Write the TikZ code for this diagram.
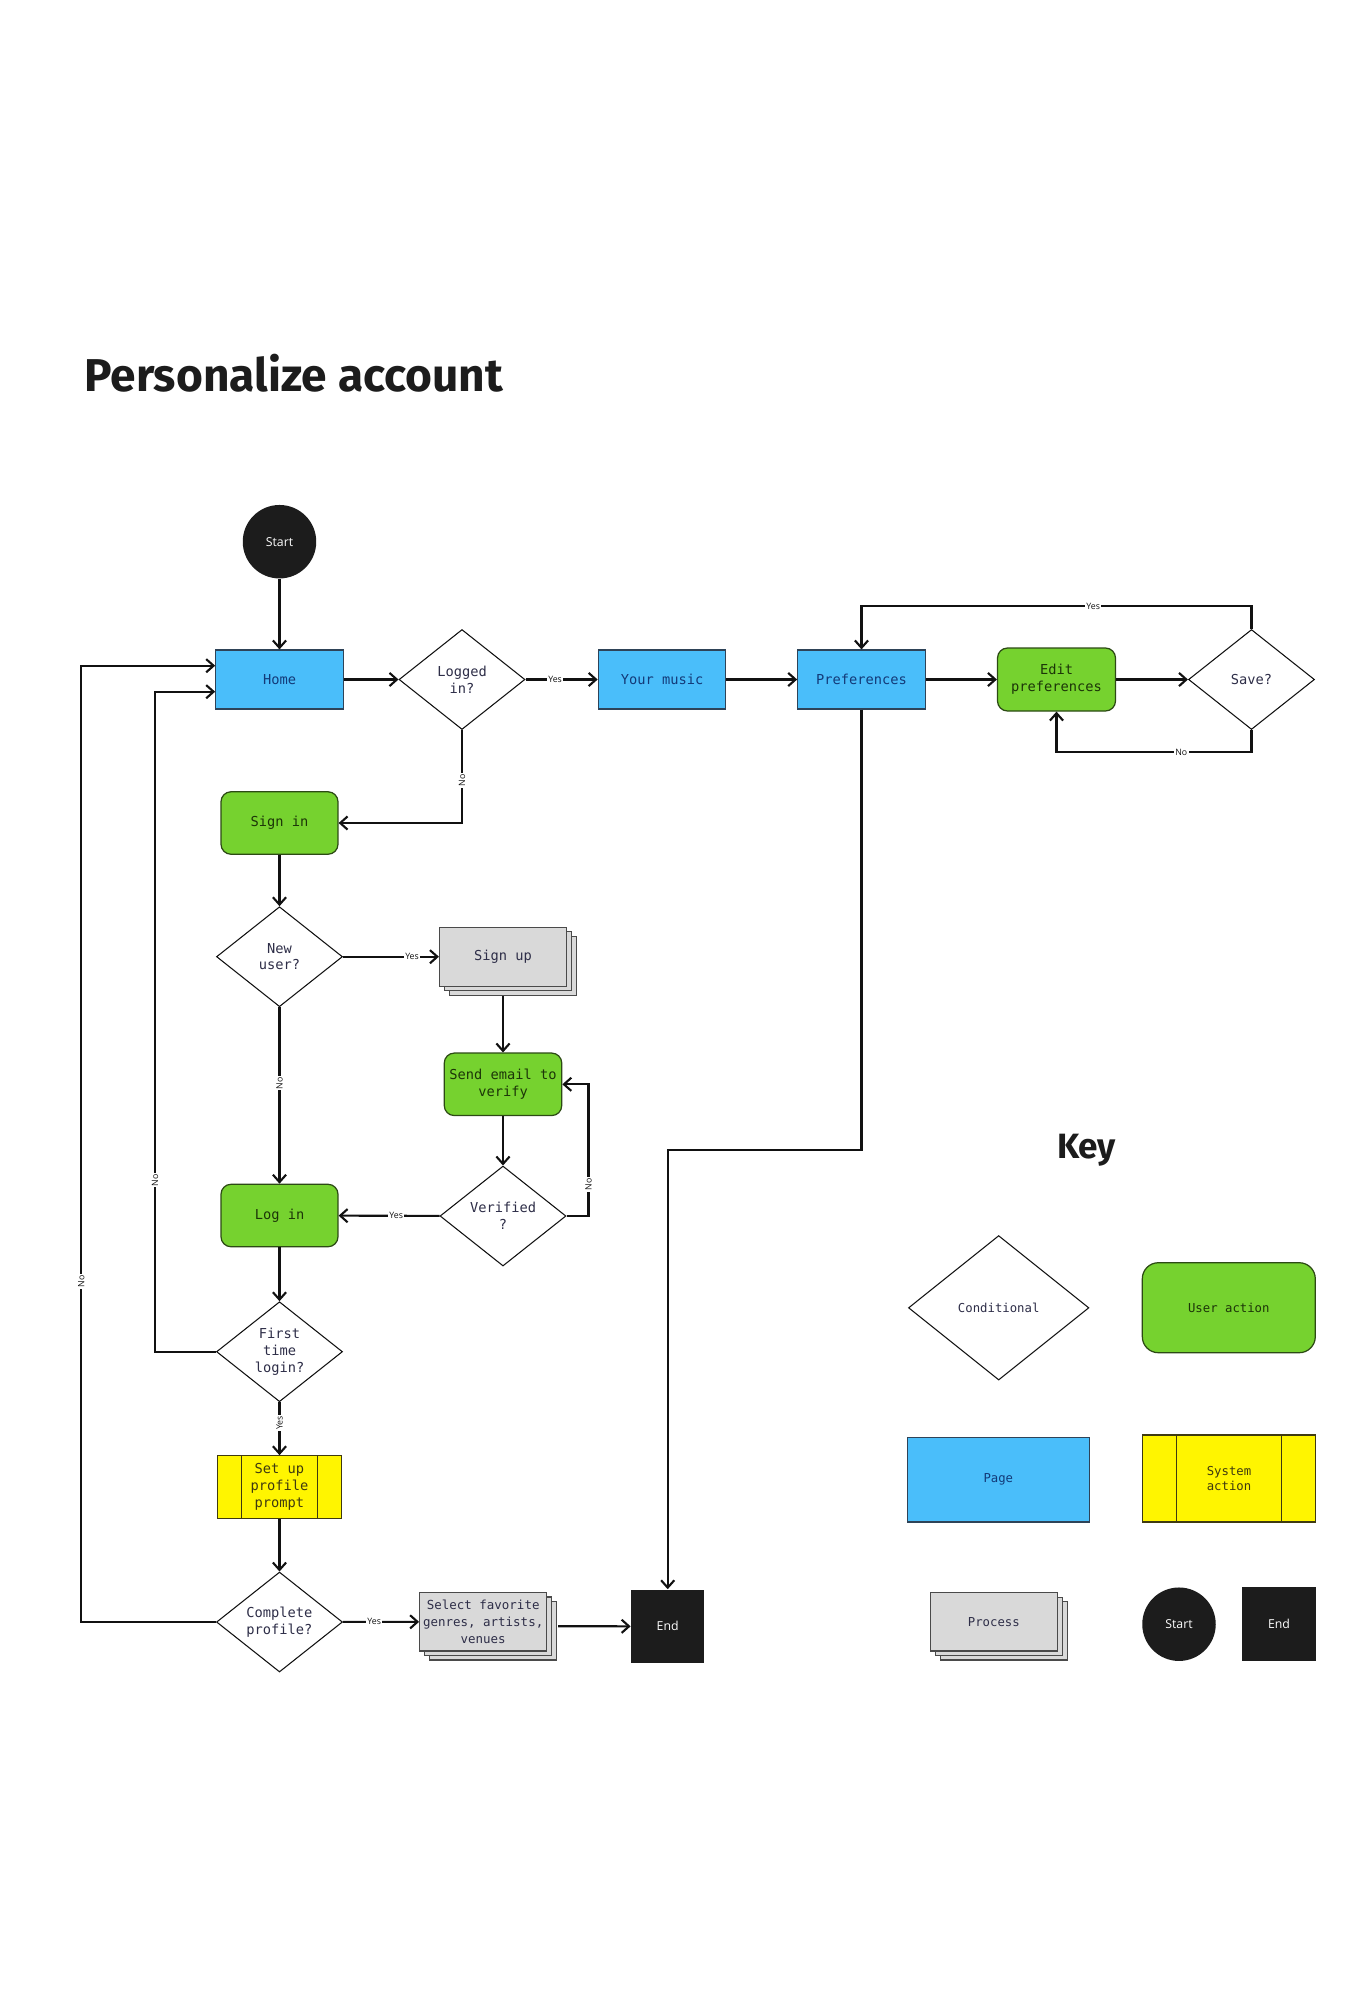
\documentclass[tikz,border=0pt]{standalone}
\usepackage{fontspec}
\setmainfont{Open Sans}
\newfontfamily\monofont{DejaVu Sans Mono}
\newfontfamily\headfont{Fira Sans}
\usepackage{xcolor}
\usepackage{tikz}
\usetikzlibrary{arrows.meta,shapes.geometric,shadows,calc,positioning}

\definecolor{pageblue}{HTML}{4ABEFA}
\definecolor{pageline}{HTML}{2E4358}
\definecolor{pagetext}{HTML}{133A78}
\definecolor{actgreen}{HTML}{76D22F}
\definecolor{actline}{HTML}{2C4A14}
\definecolor{acttext}{HTML}{1C3508}
\definecolor{sysyellow}{HTML}{FFF500}
\definecolor{sysline}{HTML}{3F3A10}
\definecolor{procgray}{HTML}{D9D9D9}
\definecolor{procline}{HTML}{4A4A4A}
\definecolor{termblack}{HTML}{1C1C1C}
\definecolor{condtext}{HTML}{2E2E48}
\definecolor{linkline}{HTML}{111111}

\begin{document}
\begin{tikzpicture}[x=0.02cm,y=-0.02cm]
  \tikzstyle{txt} = [font=\fontsize{7.8}{9.5}\monofont,align=center,inner sep=0pt]
  \tikzstyle{keytxt} = [font=\fontsize{7}{8.6}\monofont,align=center,inner sep=0pt]
  \tikzstyle{page} = [rectangle,fill=pageblue,draw=pageline,line width=0.7pt,text=pagetext]
  \tikzstyle{useraction} = [rectangle,rounded corners=0.2cm,fill=actgreen,draw=actline,line width=0.7pt,text=acttext]
  \tikzstyle{sysaction} = [rectangle,fill=sysyellow,draw=sysline,line width=0.7pt,text=sysline]
  \tikzstyle{cond} = [diamond,aspect=1.26,fill=white,draw=linkline,line width=0.6pt,text=condtext,minimum width=2.52cm,minimum height=2cm]
  \tikzstyle{process} = [rectangle,fill=procgray,draw=procline,line width=0.7pt,text=condtext,
    copy shadow={shadow xshift=5.7pt,shadow yshift=-5.1pt,fill=procgray,draw=procline},
    copy shadow={shadow xshift=2.85pt,shadow yshift=-2.6pt,fill=procgray,draw=procline}]
  \tikzstyle{terminal} = [circle,fill=termblack,draw=none,text=white,font=\fontsize{7}{8}\selectfont,minimum size=1.47cm,inner sep=0pt]
  \tikzstyle{endbox} = [rectangle,fill=termblack,draw=none,text=white,font=\fontsize{7}{8}\selectfont,minimum size=1.47cm,inner sep=0pt]
  \tikzstyle{arr} = [draw=linkline,line width=1.2pt,-{Straight Barb[length=4.2pt,width=7.5pt]}]
  \tikzstyle{lbl} = [fill=white,text=linkline,font=\fontsize{5}{6}\selectfont,inner sep=0.8pt]

  \path[use as bounding box] (0,0) rectangle (1372,1999);

  \node[anchor=base west,inner sep=0pt,text=termblack,font=\headfont\bfseries\fontsize{26.2}{31}\selectfont] (title) at (84,391.7) {Personalize account};

  \node[terminal] (Start_0) at (279.5,541.7) {Start};
  \node[page,txt,minimum width=2.55cm,minimum height=1.18cm] (Home) at (279.5,679.5) {Home};
  \node[cond,txt] (Logged_in) at (462,679.5) {Logged\\in?};
  \node[page,txt,minimum width=2.55cm,minimum height=1.18cm] (Your_music) at (662,679.5) {Your music};
  \node[page,txt,minimum width=2.55cm,minimum height=1.18cm] (Preferences) at (861.5,679.5) {Preferences};
  \node[useraction,txt,minimum width=2.36cm,minimum height=1.26cm] (Edit_pref) at (1056.5,679.5) {Edit\\preferences};
  \node[cond,txt] (Save) at (1251.5,679.5) {Save?};

  \node[useraction,txt,minimum width=2.34cm,minimum height=1.25cm] (Sign_in) at (279.5,823) {Sign in};
  \node[cond,txt] (New_user) at (279.5,956.7) {New\\user?};
  \node[process,txt,minimum width=2.54cm,minimum height=1.18cm] (Sign_up) at (503,956.7) {Sign up};
  \node[useraction,txt,minimum width=2.35cm,minimum height=1.25cm] (Send_email) at (503,1084.3) {Send email to\\verify};
  \node[cond,txt] (Verified) at (503,1216) {Verified\\?};
  \node[useraction,txt,minimum width=2.34cm,minimum height=1.25cm] (Log_in) at (279.5,1215.5) {Log in};
  \node[cond,txt] (First_time) at (279.5,1351.7) {First\\time\\login?};
  \node[sysaction,txt,minimum width=2.49cm,minimum height=1.25cm] (Set_up) at (279.5,1487) {Set up\\profile\\prompt};
  \draw[draw=sysline,line width=0.7pt] ([xshift=0.49cm]Set_up.north west) -- ([xshift=0.49cm]Set_up.south west);
  \draw[draw=sysline,line width=0.7pt] ([xshift=-0.49cm]Set_up.north east) -- ([xshift=-0.49cm]Set_up.south east);
  \node[cond,txt] (Complete) at (279.5,1622) {Complete\\profile?};
  \node[process,txt,font=\fontsize{7.1}{9.5}\monofont,minimum width=2.54cm,minimum height=1.17cm] (Select) at (483.2,1621.7) {Select favorite\\genres, artists,\\venues};
  \node[endbox] (End_0) at (667.7,1626.3) {End};

  \draw[arr] (Start_0) -- (Home);
  \draw[arr] (Home) -- (Logged_in);
  \draw[arr] (Logged_in) -- node[lbl,pos=0.41] {Yes} (Your_music);
  \draw[arr] (Your_music) -- (Preferences);
  \draw[arr] (Preferences) -- (Edit_pref);
  \draw[arr] (Edit_pref) -- (Save);
  \draw[arr] (Save.north) -- ++(0,-22.8) -| node[lbl,pos=0.203] {Yes} (Preferences.north);
  \draw[arr] (Save.south) -- ++(0,22.2) -| node[lbl,pos=0.18] {No} (Edit_pref.south);
  \draw[arr] (Preferences.south) -- ++(0,440) -| (End_0.north);

  \draw[arr] (Logged_in.south) |- node[lbl,rotate=90,pos=0.27] {No} (Sign_in.east);
  \draw[arr] (Sign_in) -- (New_user);
  \draw[arr] (New_user) -- node[lbl,pos=0.72] {Yes} (Sign_up);
  \draw[arr] ($(Sign_up.south)+(0,9)$) -- (Send_email);
  \draw[arr] (Send_email) -- (Verified);
  \draw[arr] (Verified.east) -- ++(22,0) |- node[lbl,rotate=90,pos=0.12] {No} (Send_email.east);
  \draw[arr] (Verified) -- node[lbl,pos=0.43] {Yes} (Log_in);
  \draw[arr] (New_user) -- node[lbl,rotate=90,pos=0.43] {No} (Log_in);
  \draw[arr] (Log_in) -- (First_time);
  \draw[arr] (First_time) -- node[lbl,rotate=90,pos=0.39] {Yes} (Set_up);
  \draw[arr] (Set_up) -- (Complete);
  \draw[arr] (Complete) -- node[lbl,pos=0.41] {Yes} (Select);
  \draw[arr] ($(Select.east)+(10.7,4.5)$) -- (End_0.west);
  \draw[arr] (First_time.west) -- ++(-61,0) |- node[lbl,rotate=90,pos=0.13] {No} ([yshift=-0.244cm]Home.west);
  \draw[arr] (Complete.west) -- ++(-134.6,0) |- node[lbl,rotate=90,pos=0.178] {No} ([yshift=0.276cm]Home.west);

  \node[anchor=base,inner sep=0pt,text=termblack,font=\headfont\bfseries\fontsize{20}{24}\selectfont] (key) at (1086.5,1158) {Key};
  \node[cond,keytxt,minimum width=3.61cm,minimum height=2.89cm] (Key_cond) at (998.7,1307.8) {Conditional};
  \node[useraction,keytxt,rounded corners=0.32cm,minimum width=3.46cm,minimum height=1.8cm] (Key_user) at (1228.8,1307.7) {User action};
  \node[page,keytxt,minimum width=3.64cm,minimum height=1.69cm] (Key_page) at (998.3,1479.8) {Page};
  \node[sysaction,keytxt,minimum width=3.45cm,minimum height=1.74cm] (Key_sys) at (1229,1478.5) {System\\action};
  \draw[draw=sysline,line width=0.7pt] ([xshift=0.68cm]Key_sys.north west) -- ([xshift=0.68cm]Key_sys.south west);
  \draw[draw=sysline,line width=0.7pt] ([xshift=-0.68cm]Key_sys.north east) -- ([xshift=-0.68cm]Key_sys.south east);
  \node[process,keytxt,minimum width=2.54cm,minimum height=1.17cm] (Key_proc) at (993.8,1621.8) {Process};
  \node[terminal] (Key_start) at (1179,1624.2) {Start};
  \node[endbox] (Key_end) at (1279,1624.2) {End};
\end{tikzpicture}
\end{document}
